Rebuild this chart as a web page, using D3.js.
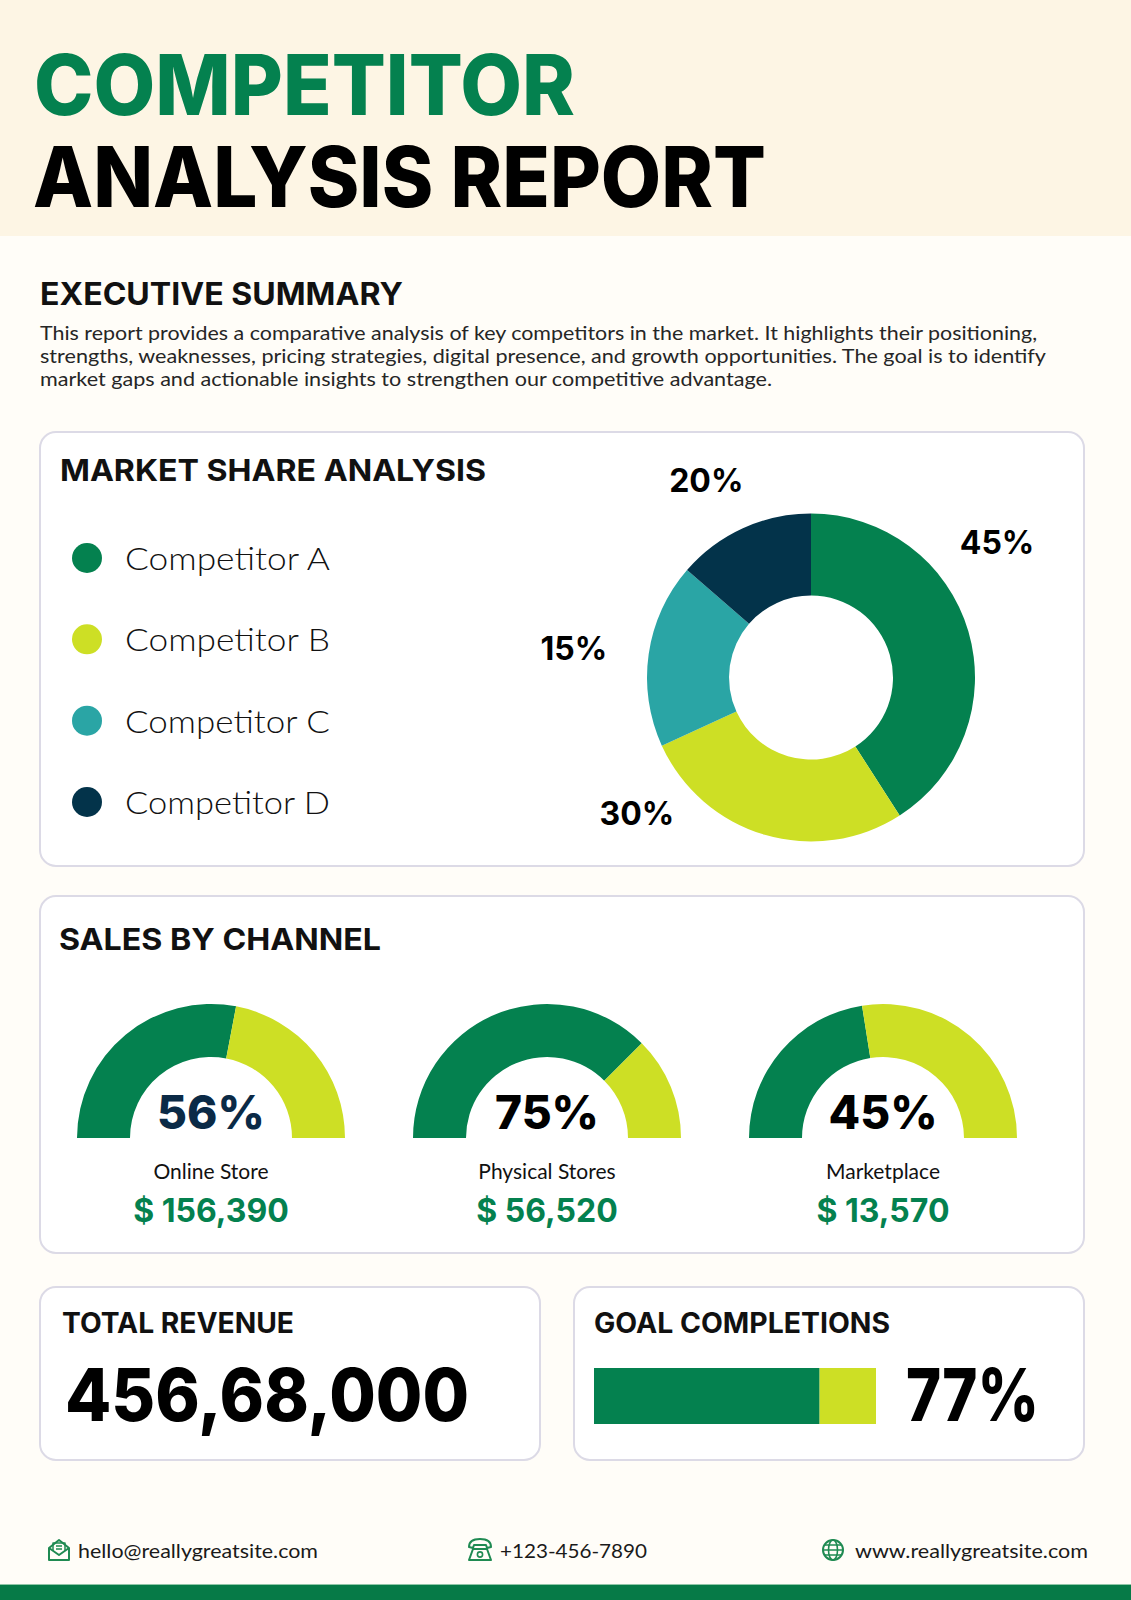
<!DOCTYPE html>
<html>
<head>
<meta charset="utf-8">
<script src="https://cdn.jsdelivr.net/npm/d3@7"></script>
<style>
  body { margin: 0; background: #fffdf8; }
  svg { display: block; }
</style>
</head>
<body>
<svg class="page"></svg>
<script>
// ---- data ----
const competitors = ['Competitor A', 'Competitor B', 'Competitor C', 'Competitor D'];
const marketShare = [45, 30, 20, 15];
const shareLabels = ['45%', '30%', '15%', '20%'];

const channels = ['Online Store', 'Physical Stores', 'Marketplace'];
const channelShare = [56, 75, 45];
const channelRevenue = ['$ 156,390', '$ 56,520', '$ 13,570'];

const totalRevenue = '456,68,000';
const goalLabel = '77%';
const goalFilled = 80; // filled part of the bar as drawn

const summaryLines = [
  'This report provides a comparative analysis of key competitors in the market. It highlights their positioning,',
  'strengths, weaknesses, pricing strategies, digital presence, and growth opportunities. The goal is to identify',
  'market gaps and actionable insights to strengthen our competitive advantage.'
];
const contacts = ['hello@reallygreatsite.com', '+123-456-7890', 'www.reallygreatsite.com'];

// ---- look ----
const W = 1131, H = 1600;
const col = {
  green: '#04814f', lime: '#cddf25', teal: '#2aa5a5', navy: '#03334a',
  ink: '#111111', card: '#ffffff', stroke: '#dcdae6', cream: '#fdf5e4', page: '#fffdf8'
};
const pieCol = [col.green, col.lime, col.teal, col.navy];
const headFont = 'Inter, "Noto Sans", sans-serif';
const bodyFont = 'Lato, "Noto Sans", sans-serif';

const svg = d3.select('.page').attr('width', W).attr('height', H);

const txt = (g, o) => {
  const t = g.append('text')
    .attr('x', o.x).attr('y', o.y)
    .attr('font-family', o.family || headFont)
    .attr('font-size', o.size)
    .attr('font-weight', o.weight || 700)
    .attr('fill', o.fill || col.ink)
    .attr('text-anchor', o.anchor || 'start')
    .text(o.text);
  if (o.len) t.attr('textLength', o.len).attr('lengthAdjust', 'spacingAndGlyphs');
  return t;
};

const card = (x, y, w, h) => svg.append('rect')
  .attr('x', x).attr('y', y).attr('width', w).attr('height', h)
  .attr('rx', 16).attr('fill', col.card)
  .attr('stroke', col.stroke).attr('stroke-width', 2);

// background + header band
svg.append('rect').attr('width', W).attr('height', H).attr('fill', col.page);
svg.append('rect').attr('width', W).attr('height', 236).attr('fill', col.cream);

txt(svg, {x: 34, y: 115, text: 'COMPETITOR', size: 84, weight: 800, fill: col.green, len: 541});
txt(svg, {x: 33, y: 207, text: 'ANALYSIS REPORT', size: 84, weight: 800, fill: '#000', len: 733});

// executive summary
txt(svg, {x: 40, y: 305, text: 'EXECUTIVE SUMMARY', size: 31, len: 363});
const lineEnds = [1037, 1046, 772];
summaryLines.forEach((line, i) => {
  txt(svg, {x: 40, y: 340 + i * 23, text: line, size: 20, weight: 400,
    family: bodyFont, fill: '#262626', len: lineEnds[i] - 40});
});

// ---- market share ----
card(40, 432, 1044, 434);
txt(svg, {x: 60, y: 481, text: 'MARKET SHARE ANALYSIS', size: 30, len: 426});

const legendY = d3.scalePoint().domain(competitors).range([558, 802]);
const legend = svg.append('g').selectAll('g').data(competitors).join('g')
  .attr('transform', d => `translate(87,${legendY(d)})`);
legend.append('circle').attr('r', 15).attr('fill', (d, i) => pieCol[i]);
legend.append('text')
  .attr('x', 38).attr('y', 12)
  .attr('font-family', bodyFont).attr('font-weight', 300).attr('font-size', 32)
  .attr('textLength', 205).attr('lengthAdjust', 'spacingAndGlyphs')
  .attr('fill', col.ink)
  .text(d => d);

const donutC = [811, 677.5];
const pie = d3.pie().sort(null)(marketShare);
const arc = d3.arc().innerRadius(82).outerRadius(164);
const donut = svg.append('g').attr('transform', `translate(${donutC})`);
donut.selectAll('path').data(pie).join('path')
  .attr('d', arc).attr('fill', (d, i) => pieCol[i]);

// label anchors (angle in degrees, distance from centre)
const labelLayout = [[54, 230], [232, 221], [277, 239], [332, 223]];
donut.selectAll('.pct').data(shareLabels).join('text')
  .attr('class', 'pct')
  .attr('transform', (d, i) => {
    const [a, r] = labelLayout[i];
    return `translate(${d3.pointRadial(a * Math.PI / 180, r)})`;
  })
  .attr('dy', '0.36em')
  .attr('text-anchor', 'middle')
  .attr('font-family', headFont).attr('font-weight', 700).attr('font-size', 32)
  .attr('fill', '#000')
  .text(d => d);

// ---- sales by channel ----
card(40, 896, 1044, 357);
txt(svg, {x: 59, y: 950, text: 'SALES BY CHANNEL', size: 30, len: 322});

const gx = d3.scalePoint().domain(channels).range([211, 883]);
const ga = d3.scaleLinear().domain([0, 100]).range([-Math.PI / 2, Math.PI / 2]);
const gArc = d3.arc().innerRadius(81).outerRadius(134);

const gauges = svg.append('g').selectAll('g').data(channels).join('g')
  .attr('transform', d => `translate(${gx(d)},1138)`);
gauges.append('path')
  .attr('d', (d, i) => gArc({startAngle: ga(0), endAngle: ga(channelShare[i])}))
  .attr('fill', col.green);
gauges.append('path')
  .attr('d', (d, i) => gArc({startAngle: ga(channelShare[i]), endAngle: ga(100)}))
  .attr('fill', col.lime);
gauges.append('text')
  .attr('y', -9).attr('text-anchor', 'middle')
  .attr('font-family', headFont).attr('font-weight', 800).attr('font-size', 46)
  .attr('fill', (d, i) => i === 0 ? '#0b2a46' : '#000')
  .text((d, i) => channelShare[i] + '%');
gauges.append('text')
  .attr('y', 41).attr('text-anchor', 'middle')
  .attr('font-family', bodyFont).attr('font-weight', 400).attr('font-size', 21)
  .attr('fill', col.ink)
  .text(d => d);
gauges.append('text')
  .attr('y', 84).attr('text-anchor', 'middle')
  .attr('font-family', headFont).attr('font-weight', 700).attr('font-size', 32)
  .attr('fill', col.green)
  .text((d, i) => channelRevenue[i]);

// ---- total revenue / goal ----
card(40, 1287, 500, 173);
txt(svg, {x: 62, y: 1333, text: 'TOTAL REVENUE', size: 28, len: 232});
txt(svg, {x: 65, y: 1421, text: totalRevenue, size: 73, weight: 800, fill: '#000', len: 404});

card(574, 1287, 510, 173);
txt(svg, {x: 594, y: 1333, text: 'GOAL COMPLETIONS', size: 28, len: 296});

const bx = d3.scaleLinear().domain([0, 100]).range([594, 876]);
svg.append('g').selectAll('rect')
  .data([[0, goalFilled, col.green], [goalFilled, 100, col.lime]])
  .join('rect')
  .attr('x', d => bx(d[0])).attr('width', d => bx(d[1]) - bx(d[0]))
  .attr('y', 1368).attr('height', 56)
  .attr('fill', d => d[2]);
txt(svg, {x: 906, y: 1421, text: goalLabel, size: 73, weight: 800, fill: '#000', len: 133});

// ---- footer ----
const footX = [78, 500, 855];
const footEnd = [318, 647, 1088];
contacts.forEach((c, i) => {
  txt(svg, {x: footX[i], y: 1558, text: c, size: 20, weight: 400,
    family: bodyFont, fill: '#1a1a1a', len: footEnd[i] - footX[i]});
});

const icons = svg.append('g')
  .attr('fill', 'none').attr('stroke', '#1f8a52')
  .attr('stroke-width', 2).attr('stroke-linejoin', 'round');
// open envelope
icons.append('path').attr('d', 'M49,1548 L59,1540 L69,1548 L69,1560 L49,1560 Z M49,1548 L59,1555 L69,1548');
icons.append('path').attr('d', 'M53,1551 L53,1543 L65,1543 L65,1551 M56,1546 L62,1546 M56,1549 L62,1549')
  .attr('stroke-width', 1.5);
// telephone
icons.append('path').attr('d', 'M469,1547 Q469,1539 480,1539 Q491,1539 491,1547 L487,1548 L486,1545 L474,1545 L473,1548 Z');
icons.append('path').attr('d', 'M473,1549 L487,1549 L491,1560 L469,1560 Z');
icons.append('circle').attr('cx', 480).attr('cy', 1554.5).attr('r', 2.6).attr('stroke-width', 1.6);
// globe
icons.append('circle').attr('cx', 833).attr('cy', 1550).attr('r', 10);
icons.append('ellipse').attr('cx', 833).attr('cy', 1550).attr('rx', 4.5).attr('ry', 10).attr('stroke-width', 1.6);
icons.append('path').attr('d', 'M823,1550 L843,1550 M825,1545 L841,1545 M825,1555 L841,1555').attr('stroke-width', 1.6);

// bottom band
svg.append('rect').attr('y', 1584).attr('width', W).attr('height', 1).attr('fill', '#8fc6a7');
svg.append('rect').attr('y', 1585).attr('width', W).attr('height', 15).attr('fill', '#067a47');
</script>
</body>
</html>
